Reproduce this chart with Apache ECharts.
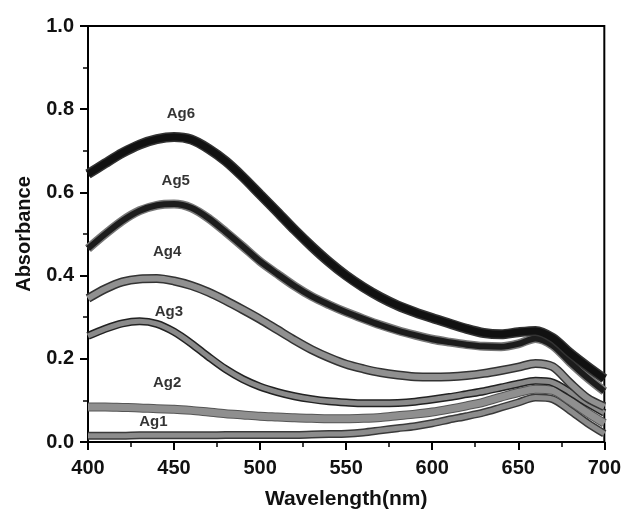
<!DOCTYPE html>
<html>
<head>
<meta charset="utf-8">
<script src="https://cdn.jsdelivr.net/npm/echarts@6/dist/echarts.min.js"></script>
<style>
    html, body { margin: 0; padding: 0; background: #fff; }
    #chart0 { width: 624px; height: 515px; }
</style>
</head>
<body>
<div id="chart0"></div>
<script>
// wavelength grid (nm) and absorbance
var wl = [400, 410, 420, 430, 440, 450, 460, 470, 480, 490, 500, 510, 520, 530, 540, 550,
    560, 570, 580, 590, 600, 610, 620, 630, 640, 650, 660, 670, 680, 690, 700];
var ag6 = [0.644, 0.670, 0.695, 0.715, 0.728, 0.733, 0.727, 0.705, 0.675, 0.637, 0.595, 0.553, 0.510, 0.470, 0.433, 0.400,
    0.372, 0.348, 0.328, 0.312, 0.298, 0.285, 0.272, 0.262, 0.259, 0.264, 0.267, 0.250, 0.214, 0.182, 0.152];
var ag5 = [0.465, 0.500, 0.532, 0.556, 0.569, 0.572, 0.563, 0.538, 0.505, 0.470, 0.434, 0.404, 0.375, 0.350, 0.330, 0.312,
    0.296, 0.281, 0.268, 0.257, 0.247, 0.240, 0.234, 0.230, 0.229, 0.236, 0.249, 0.232, 0.192, 0.155, 0.122];
var ag4 = [0.345, 0.368, 0.385, 0.392, 0.393, 0.387, 0.376, 0.360, 0.340, 0.318, 0.295, 0.270, 0.245, 0.222, 0.203, 0.187,
    0.176, 0.167, 0.161, 0.157, 0.156, 0.157, 0.160, 0.165, 0.172, 0.180, 0.189, 0.181, 0.142, 0.106, 0.085];
var ag3 = [0.255, 0.272, 0.285, 0.290, 0.284, 0.265, 0.237, 0.205, 0.175, 0.151, 0.133, 0.120, 0.110, 0.103, 0.098, 0.095,
    0.093, 0.093, 0.094, 0.097, 0.102, 0.108, 0.115, 0.122, 0.131, 0.140, 0.147, 0.143, 0.120, 0.094, 0.070];
var ag2 = [0.084, 0.084, 0.083, 0.082, 0.080, 0.079, 0.076, 0.072, 0.068, 0.065, 0.062, 0.060, 0.058, 0.057, 0.056, 0.056,
    0.057, 0.059, 0.063, 0.067, 0.072, 0.079, 0.087, 0.096, 0.108, 0.119, 0.127, 0.124, 0.099, 0.071, 0.045];
var ag1 = [0.015, 0.015, 0.015, 0.016, 0.016, 0.016, 0.016, 0.016, 0.017, 0.017, 0.017, 0.017, 0.017, 0.018, 0.019, 0.020,
    0.023, 0.028, 0.033, 0.038, 0.045, 0.054, 0.062, 0.071, 0.083, 0.095, 0.107, 0.103, 0.076, 0.046, 0.020];

var labelNames = ['Ag6', 'Ag5', 'Ag4', 'Ag3', 'Ag2', 'Ag1'];
var labelPts = [[454, 0.788], [451, 0.628], [446, 0.456], [447, 0.314], [446, 0.141], [438, 0.049]];

var xTicks = [400, 450, 500, 550, 600, 650, 700];
var yTicks = [0.0, 0.2, 0.4, 0.6, 0.8, 1.0];

var boldFont = 'Liberation Sans';

function pairs(vals) {
    return wl.map(function (w, i) { return [w, vals[i]]; });
}

function band(name, vals, edge, fill, outer, inner) {
    // dark edge underneath, lighter fill on top
    var base = {name: name, type: 'line', data: pairs(vals), smooth: 0.3, symbol: 'none', silent: true};
    return [
        Object.assign({}, base, {lineStyle: {color: edge, width: outer}}),
        Object.assign({}, base, {lineStyle: {color: fill, width: inner}})
    ];
}

var series = [].concat(
    band('Ag1', ag1, '#3a3a3a', '#8c8c8c', 8, 5),
    band('Ag2', ag2, '#555', '#8f8f8f', 9, 7),
    band('Ag3', ag3, '#222', '#8a8a8a', 8, 5),
    band('Ag4', ag4, '#333', '#909090', 9, 6),
    band('Ag5', ag5, '#777', '#1c1c1c', 9, 6),
    band('Ag6', ag6, '#333', '#111', 10, 7)
);

series.push({
    type: 'scatter',
    symbolSize: 0,
    silent: true,
    data: labelPts.map(function (p, i) {
        return {value: p, name: labelNames[i]};
    }),
    label: {
        show: true,
        position: 'inside',
        formatter: '{b}',
        color: '#000',
        fontFamily: boldFont,
        fontWeight: 'bold',
        fontSize: 15
    }
});

var option0 = {
    animation: false,
    backgroundColor: '#fff',
    grid: {
        left: 88, right: 19, top: 26, bottom: 70,
        show: true,
        borderColor: '#000',
        borderWidth: 2,
        backgroundColor: 'transparent'
    },
    xAxis: {
        type: 'value',
        min: 400, max: 700, interval: 50,
        name: 'Wavelength(nm)',
        nameLocation: 'middle',
        nameGap: 47,
        nameTextStyle: {fontFamily: boldFont, fontWeight: 'bold', fontSize: 21, color: '#111'},
        axisLine: {show: true, lineStyle: {color: '#000', width: 2}},
        axisTick: {show: true, inside: false, length: 8, lineStyle: {color: '#000', width: 2}},
        minorTick: {show: true, splitNumber: 2, length: 5, lineStyle: {color: '#000', width: 1.5}},
        splitLine: {show: false},
        axisLabel: {
            margin: 16,
            fontFamily: boldFont, fontWeight: 'bold', fontSize: 20, color: '#111',
            formatter: function (v) { return xTicks.indexOf(v) >= 0 ? String(v) : ''; }
        }
    },
    yAxis: {
        type: 'value',
        min: 0, max: 1, interval: 0.2,
        name: 'Absorbance',
        nameLocation: 'middle',
        nameGap: 54,
        nameTextStyle: {fontFamily: boldFont, fontWeight: 'bold', fontSize: 20, color: '#111'},
        axisLine: {show: true, lineStyle: {color: '#000', width: 2}},
        axisTick: {show: true, inside: false, length: 8, lineStyle: {color: '#000', width: 2}},
        minorTick: {show: true, splitNumber: 2, length: 5, lineStyle: {color: '#000', width: 1.5}},
        splitLine: {show: false},
        axisLabel: {
            margin: 14,
            fontFamily: boldFont, fontWeight: 'bold', fontSize: 20, color: '#111',
            formatter: function (v) {
                var t = yTicks.filter(function (y) { return Math.abs(y - v) < 1e-6; });
                return t.length ? t[0].toFixed(1) : '';
            }
        }
    },
    series: series
};

var myChart0 = echarts.init(document.getElementById('chart0'));
myChart0.setOption(option0);
</script>
</body>
</html>
